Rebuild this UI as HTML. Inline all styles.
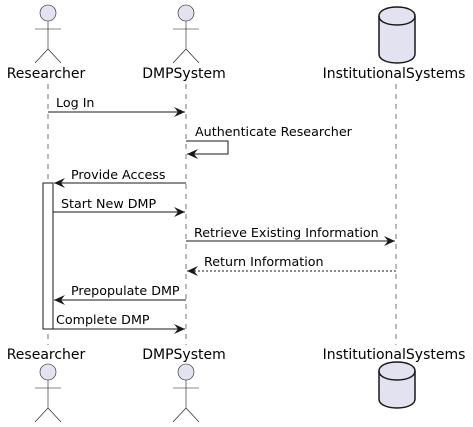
<!DOCTYPE html>
<html><head><meta charset="utf-8"><style>html,body{margin:0;padding:0;background:#fff}svg{display:block}</style></head>
<body>
<svg width="473" height="427" viewBox="0 0 473 427" xmlns="http://www.w3.org/2000/svg" font-family="DejaVu Sans, Liberation Sans, sans-serif">
<defs>
<marker id="a" markerWidth="12" markerHeight="10" refX="11" refY="5" orient="auto" markerUnits="userSpaceOnUse">
<path d="M0,0 L11,5 L0,10 L4,5 Z" fill="#181818"/>
</marker>
</defs>
<g stroke="#181818" stroke-width="0.6" stroke-dasharray="5,5">
<line x1="48" y1="84" x2="48" y2="345"/>
<line x1="186" y1="84" x2="186" y2="345"/>
<line x1="396" y1="84" x2="396" y2="345"/>
</g>
<g fill="#E2E2F0" stroke="#181818" stroke-width="0.6">
<circle cx="48" cy="13" r="8"/><circle cx="186" cy="13" r="8"/>
<circle cx="48" cy="372" r="8"/><circle cx="186" cy="372" r="8"/>
</g>
<g stroke="#181818" stroke-width="0.6" fill="none">
<path d="M48,21 V49 M35,29 H61 M35,63 L48,49 L61,63"/>
<path d="M186,21 V49 M173,29 H199 M173,63 L186,49 L199,63"/>
<path d="M48,380 V408 M35,388 H61 M35,422 L48,408 L61,422"/>
<path d="M186,380 V408 M173,388 H199 M173,422 L186,408 L199,422"/>
</g>
<g fill="#E2E2F0" stroke="#181818" stroke-width="1.5">
<path d="M379,16 C379,4 415,4 415,16 V54 C415,66 379,66 379,54 Z"/>
<path d="M379,16 C379,28 415,28 415,16" fill="none"/>
<path d="M379,371 C379,359 415,359 415,371 V399 C415,411 379,411 379,399 Z"/>
<path d="M379,371 C379,383 415,383 415,371" fill="none"/>
</g>
<g font-size="14" fill="#000" text-anchor="middle">
<text x="46" y="78">Researcher</text>
<text x="184" y="78">DMPSystem</text>
<text x="394" y="78">InstitutionalSystems</text>
<text x="46" y="359">Researcher</text>
<text x="184" y="359">DMPSystem</text>
<text x="394" y="359">InstitutionalSystems</text>
</g>
<rect x="43" y="183" width="10" height="146" fill="#fff" stroke="#181818" stroke-width="1"/>
<g stroke="#181818" stroke-width="1" fill="none">
<line x1="48" y1="112" x2="185" y2="112" marker-end="url(#a)"/>
<polyline points="186,141 228,141 228,154 187,154" marker-end="url(#a)"/>
<line x1="186" y1="183" x2="54" y2="183" marker-end="url(#a)"/>
<line x1="53" y1="212" x2="185" y2="212" marker-end="url(#a)"/>
<line x1="186" y1="241" x2="395" y2="241" marker-end="url(#a)"/>
<line x1="396" y1="271" x2="187" y2="271" stroke-dasharray="2,2" marker-end="url(#a)"/>
<line x1="186" y1="300" x2="54" y2="300" marker-end="url(#a)"/>
<line x1="53" y1="329" x2="185" y2="329" marker-end="url(#a)"/>
</g>
<g font-size="12.7" fill="#000">
<text x="56" y="107">Log In</text>
<text x="195" y="136">Authenticate Researcher</text>
<text x="71" y="179">Provide Access</text>
<text x="61" y="208">Start New DMP</text>
<text x="194" y="237">Retrieve Existing Information</text>
<text x="204" y="266">Return Information</text>
<text x="71" y="295">Prepopulate DMP</text>
<text x="56" y="324">Complete DMP</text>
</g>
</svg>
</body></html>
